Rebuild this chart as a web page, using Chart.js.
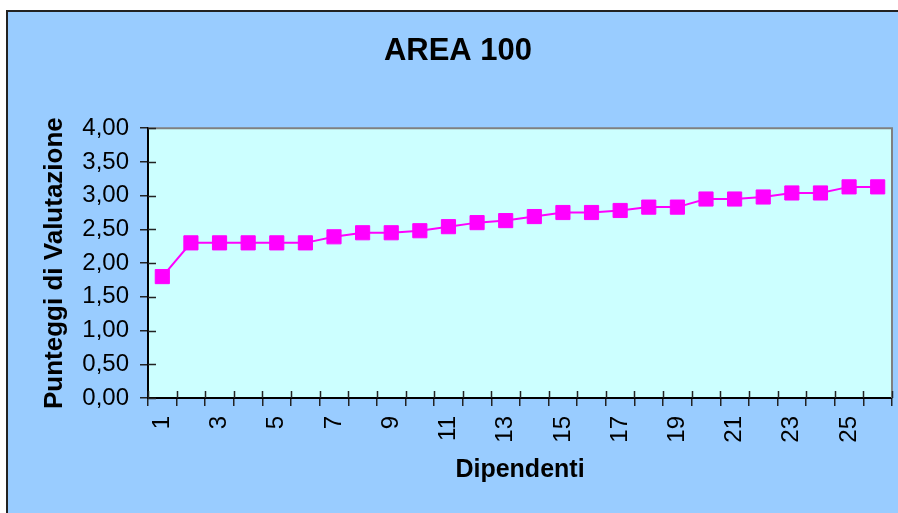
<!DOCTYPE html>
<html>
<head>
<meta charset="utf-8">
<title>AREA 100</title>
<script src="https://cdn.jsdelivr.net/npm/chart.js@4/dist/chart.umd.min.js"></script>
<style>
  html, body { margin: 0; padding: 0; background: #ffffff; }
  #wrap { width: 898px; height: 513px; }
</style>
</head>
<body>
<div id="wrap"><canvas id="chart" width="898" height="513"></canvas></div>
<script>
// Employee numbers along the x axis
const dipendenti = ['1','2','3','4','5','6','7','8','9','10','11','12','13',
                    '14','15','16','17','18','19','20','21','22','23','24','25','26'];

// Evaluation scores, one per employee
const punteggi = [1.80, 2.30, 2.30, 2.30, 2.30, 2.30, 2.39, 2.45, 2.45, 2.48,
                  2.54, 2.60, 2.63, 2.69, 2.75, 2.75, 2.78, 2.83, 2.83, 2.95,
                  2.95, 2.98, 3.04, 3.04, 3.13, 3.13];

// Value axis range and step
const yMin = 0;
const yMax = 4;
const yStep = 0.5;

const FONT = '"Liberation Sans", Arial, Helvetica, sans-serif';

// Paints the outer frame, the plot background and the inner halves of the tick marks
const framePlugin = {
  id: 'frame',
  beforeDraw(chart) {
    const { ctx, width, height, chartArea: a } = chart;
    ctx.save();
    ctx.fillStyle = '#ffffff';
    ctx.fillRect(0, 0, width, height);
    ctx.fillStyle = '#99CCFF';
    ctx.fillRect(6, 10, width - 6, height - 10);
    ctx.strokeStyle = '#222222';
    ctx.lineWidth = 2;
    ctx.beginPath();
    ctx.moveTo(7, height);
    ctx.lineTo(7, 11);
    ctx.lineTo(width, 11);
    ctx.stroke();
    ctx.fillStyle = '#CCFFFF';
    ctx.fillRect(a.left, a.top, a.right - a.left, a.bottom - a.top);
    ctx.restore();
  },
  beforeDatasetsDraw(chart) {
    const { ctx, chartArea: a, scales } = chart;
    ctx.save();
    // grey top and right edges of the plot
    ctx.strokeStyle = '#808080';
    ctx.lineWidth = 2;
    ctx.beginPath();
    ctx.moveTo(a.left, a.top);
    ctx.lineTo(a.right, a.top);
    ctx.lineTo(a.right, a.bottom);
    ctx.stroke();
    // tick marks continue a few pixels inside the plot
    ctx.strokeStyle = '#222222';
    ctx.lineWidth = 1.5;
    ctx.beginPath();
    const x = scales.x;
    for (let i = 0; i <= dipendenti.length; i++) {
      const px = Math.round(x.getPixelForValue(i - 0.5)) + 0.5;
      ctx.moveTo(px, a.bottom);
      ctx.lineTo(px, a.bottom - 7);
    }
    const y = scales.y;
    for (let v = yMin; v <= yMax + 1e-9; v += yStep) {
      const py = Math.round(y.getPixelForValue(v)) + 0.5;
      ctx.moveTo(a.left, py);
      ctx.lineTo(a.left + 8, py);
    }
    ctx.stroke();
    ctx.restore();
  }
};

new Chart(document.getElementById('chart'), {
  type: 'line',
  data: {
    labels: dipendenti,
    datasets: [{
      data: punteggi,
      borderColor: '#FF00FF',
      backgroundColor: '#FF00FF',
      borderWidth: 2,
      pointStyle: 'rect',
      pointRadius: 10,
      pointHoverRadius: 10,
      pointBorderWidth: 1,
      pointBorderColor: '#FF00FF',
      pointBackgroundColor: '#FF00FF',
      tension: 0,
      fill: false
    }]
  },
  options: {
    responsive: false,
    animation: false,
    devicePixelRatio: 1,
    layout: { autoPadding: false, padding: { left: 24, right: 6, top: 0, bottom: 0 } },
    plugins: {
      legend: { display: false },
      tooltip: { enabled: false },
      title: {
        display: true,
        text: 'AREA 100',
        color: '#000000',
        font: { family: FONT, size: 31, weight: 'bold' },
        padding: { top: 33, bottom: 58 }
      }
    },
    scales: {
      x: {
        type: 'category',
        offset: true,
        grid: {
          offset: true,
          drawOnChartArea: false,
          drawTicks: true,
          tickLength: 8,
          color: '#222222',
          lineWidth: 1.5
        },
        border: { display: true, color: '#000000', width: 2 },
        ticks: {
          autoSkip: false,
          minRotation: 90,
          maxRotation: 90,
          padding: 10,
          color: '#000000',
          font: { family: FONT, size: 24 },
          callback: function (value, index) {
            return index % 2 === 0 ? this.getLabelForValue(value) : '';
          }
        },
        title: {
          display: true,
          text: 'Dipendenti',
          color: '#000000',
          font: { family: FONT, size: 25, weight: 'bold' },
          padding: { top: 0, bottom: 28 }
        },
        afterFit(scale) {
          scale.height = 115;
          scale.paddingLeft = 0;
          scale.paddingRight = 0;
        }
      },
      y: {
        min: yMin,
        max: yMax,
        grid: {
          drawOnChartArea: false,
          drawTicks: true,
          tickLength: 8,
          color: '#222222',
          lineWidth: 1.5
        },
        border: { display: true, color: '#000000', width: 2 },
        ticks: {
          stepSize: yStep,
          padding: 11,
          color: '#000000',
          font: { family: FONT, size: 24 },
          callback: (v) => v.toFixed(2).replace('.', ',')
        },
        title: {
          display: true,
          text: 'Punteggi di Valutazione',
          color: '#000000',
          font: { family: FONT, size: 26, weight: 'bold' },
          padding: { top: 15, bottom: 0 }
        },
        afterFit(scale) { scale.width = 124; }
      }
    }
  },
  plugins: [framePlugin]
});
</script>
</body>
</html>
